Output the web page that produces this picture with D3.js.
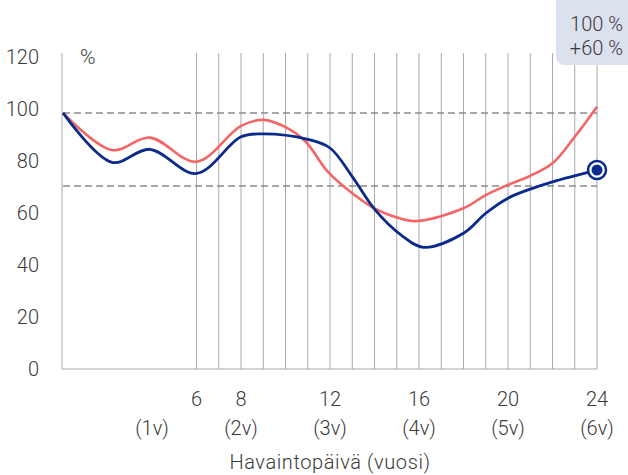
<!DOCTYPE html>
<html><head><meta charset="utf-8">
<script src="https://cdn.jsdelivr.net/npm/d3@7"></script>
<style>
body{margin:0;background:#fff;}
text{font-family:Roboto,"Noto Sans",sans-serif;font-weight:300;fill:#3a3a3a;}
</style></head>
<body>
<svg id="c" width="628" height="475"></svg>
<script>
const yTicks = [0, 20, 40, 60, 80, 100, 120];
const xTickDays = [6, 8, 12, 16, 20, 24];
const yearLabels = ["(1v)", "(2v)", "(3v)", "(4v)", "(5v)", "(6v)"];
const yearDays = [4, 8, 12, 16, 20, 24];
const gridDays = [6,7,8,9,10,11,12,13,14,15,16,17,18,19,20,21,22,23,24];
const refLines = [98.5, 70.4];
const blueX = [0, 2.2, 3.9, 6, 8, 9, 11, 12, 13, 14, 15.2, 16.2, 18, 19, 20, 21, 22, 24];
const blueY = [98.5, 79.5, 84.5, 75.2, 89.3, 90.4, 88.3, 85, 74, 61.5, 51.5, 46.8, 52.2, 59.9, 65.7, 69.2, 72, 76.5];
const redX = [0, 2.2, 3.9, 6, 8, 9, 10, 10.9, 11.9, 13, 14, 15, 15.9, 18, 19, 20, 21, 22, 23, 24];
const redY = [98.5, 84.2, 89, 79.7, 93.5, 95.8, 93, 87.5, 75.9, 67.6, 61.8, 58.3, 56.9, 61.8, 66.9, 70.8, 74.3, 79.1, 89.3, 100.9];
const badgeLines = ["100 %", "+60 %"];
const xTitle = "Havaintopäivä (vuosi)";
const yUnit = "%";

const svg = d3.select("#c");
const x = d3.scaleLinear().domain([0, 24]).range([63, 597]);
const y = d3.scaleLinear().domain([0, 120]).range([369, 57]);
const navy = "#0a2a8c", red = "#f46666", grid = "#a8a8a8";
const fs = 20;

// vertical grid
svg.append("g").selectAll("line").data(gridDays).join("line")
  .attr("x1", d => x(d)).attr("x2", d => x(d))
  .attr("y1", y(120) - 4).attr("y2", y(0))
  .attr("stroke", grid).attr("stroke-width", 1);

// axes lines
svg.append("line").attr("x1", x(0) - 1).attr("x2", x(0) - 1).attr("y1", y(120) - 4).attr("y2", y(0))
  .attr("stroke", grid).attr("stroke-width", 1);
svg.append("line").attr("x1", x(0) - 1).attr("x2", x(24)).attr("y1", y(0)).attr("y2", y(0))
  .attr("stroke", grid).attr("stroke-width", 1);

// reference dashed lines
svg.append("g").selectAll("line").data(refLines).join("line")
  .attr("x1", x(0)).attr("x2", x(24))
  .attr("y1", d => y(d)).attr("y2", d => y(d))
  .attr("stroke", "#8a8a8a").attr("stroke-width", 1.5).attr("stroke-dasharray", "7,4");

// y tick labels
svg.append("g").selectAll("text").data(yTicks).join("text")
  .attr("x", 39).attr("y", d => y(d)).attr("dy", "0.35em")
  .attr("text-anchor", "end").attr("font-size", fs).text(d => d);
svg.append("text").attr("x", 80).attr("y", y(120)).attr("dy", "0.35em")
  .attr("font-size", fs + 1).text(yUnit);

// x tick labels
svg.append("g").selectAll("text").data(xTickDays).join("text")
  .attr("x", d => x(d)).attr("y", 399).attr("dy", "0.35em")
  .attr("text-anchor", "middle").attr("font-size", fs).text(d => d);
svg.append("g").selectAll("text").data(yearLabels).join("text")
  .attr("x", (d, i) => x(yearDays[i])).attr("y", 428).attr("dy", "0.35em")
  .attr("text-anchor", "middle").attr("font-size", fs).text(d => d);
svg.append("text").attr("x", 330).attr("y", 462).attr("dy", "0.35em")
  .attr("text-anchor", "middle").attr("font-size", fs).attr("letter-spacing", 0.6).text(xTitle);

// lines
const line = d3.line().x(d => x(d[0])).y(d => y(d[1])).curve(d3.curveCatmullRom.alpha(0.5));
const redData = redX.map((v, i) => [v, redY[i]]);
const blueData = blueX.map((v, i) => [v, blueY[i]]);
svg.append("path").attr("d", line(redData)).attr("fill", "none").attr("stroke", red).attr("stroke-width", 2.6);
svg.append("path").attr("d", line(blueData)).attr("fill", "none").attr("stroke", navy).attr("stroke-width", 2.8);

// end marker
const last = blueData[blueData.length - 1];
svg.append("circle").attr("cx", x(last[0])).attr("cy", y(last[1])).attr("r", 9)
  .attr("fill", "#fff").attr("stroke", navy).attr("stroke-width", 2.5);
svg.append("circle").attr("cx", x(last[0])).attr("cy", y(last[1])).attr("r", 5.5).attr("fill", navy);

// badge
svg.append("rect").attr("x", 556).attr("y", -10).attr("width", 90).attr("height", 75).attr("rx", 8)
  .attr("fill", "#dce1ee");
svg.append("g").selectAll("text").data(badgeLines).join("text")
  .attr("x", 623).attr("y", (d, i) => 24 + i * 24).attr("dy", "0.35em")
  .attr("text-anchor", "end").attr("font-size", fs).text(d => d);
</script>
</body></html>
